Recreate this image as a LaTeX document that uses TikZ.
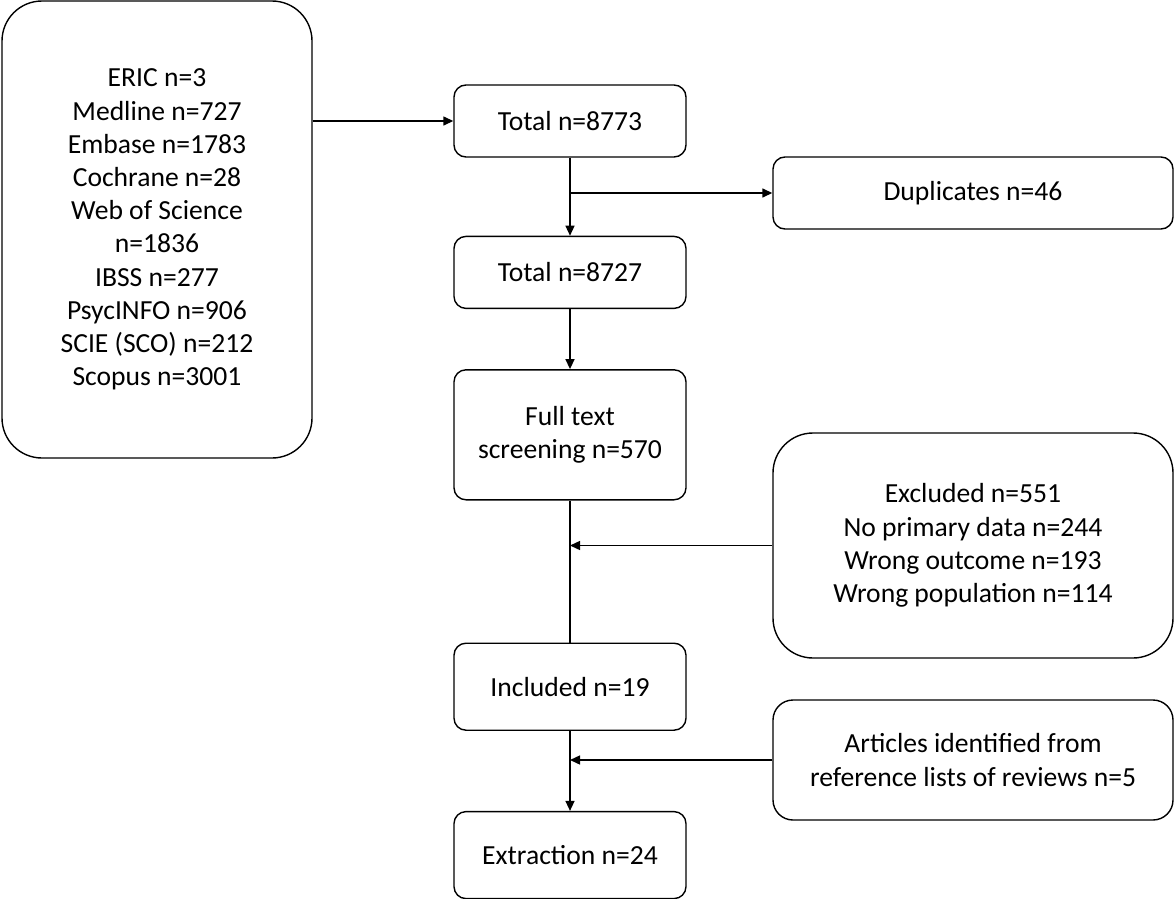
\documentclass[tikz,border=0pt]{standalone}
\usepackage{fontspec}
\setmainfont{Carlito}
\usetikzlibrary{arrows.meta,positioning}

\begin{document}
\begin{tikzpicture}[x=1pt,y=-1pt,line width=1.4pt,
  >={Triangle[length=10pt,width=9pt]},node distance=78pt,
  box/.style={draw,rounded corners=12pt,align=center,minimum width=232pt,
    minimum height=72pt,inner sep=0pt,font=\fontsize{27.6}{33.2}\selectfont},
  side box/.style={box,minimum width=400pt},
  big box/.style={box,rounded corners=40pt}]

  \useasboundingbox (0,0) rectangle (1175,899);

  \node[big box,minimum width=310pt,minimum height=457pt] (src) at (157,229.5)
    {ERIC n=3\\Medline n=727\\Embase n=1783\\Cochrane n=28\\Web of Science\\
     n=1836\\IBSS n=277\\PsycINFO n=906\\SCIE (SCO) n=212\\Scopus n=3001};
  \node[box] (t1) at (570,121) {Total n=8773};
  \node[box] (t2) [below=of t1] {Total n=8727};
  \node[box,minimum height=130pt] (full) [below=60pt of t2] {Full text\\screening n=570};
  \node[box,minimum height=87pt] (incl) [below=142pt of full] {Included n=19};
  \node[box,minimum height=87pt] (extr) [below=80pt of incl] {Extraction n=24};

  \node[side box] (dup) at (973,193) {Duplicates n=46};
  \node[side box,rounded corners=40pt,minimum height=225pt] (excl) at (973,545.5)
    {Excluded n=551\\No primary data n=244\\Wrong outcome n=193\\Wrong population n=114};
  \node[side box,rounded corners=20pt,minimum height=120pt] (art) at (973,760)
    {Articles identified from\\reference lists of reviews n=5};

  \draw[->] (src.east |- t1) -- (t1);
  \draw[->] (t1) -- (t2);
  \draw[->] (t1.south |- dup) -- (dup);
  \draw[->] (t2) -- (full);
  \draw (full) -- (incl);
  \draw[->] (excl) -- (full.south |- excl);
  \draw[->] (incl) -- (extr);
  \draw[->] (art) -- (incl.south |- art);
\end{tikzpicture}
\end{document}
